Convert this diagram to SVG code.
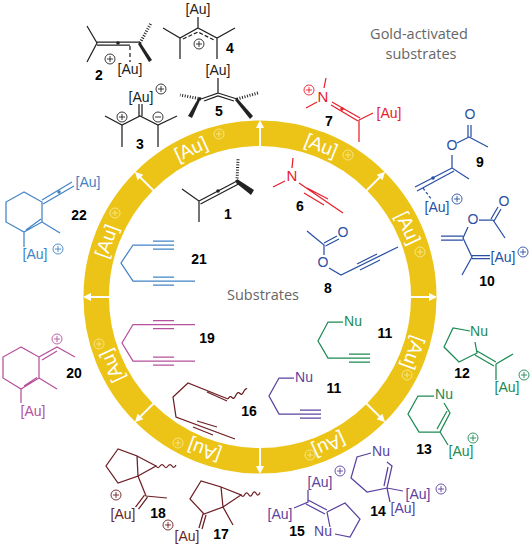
<svg xmlns="http://www.w3.org/2000/svg" xmlns:xlink="http://www.w3.org/1999/xlink" width="532" height="546" viewBox="0 0 532 546">
<style>
text{font-family:"Liberation Sans",Arial,sans-serif;font-size:14px;text-anchor:middle}
.n{font-weight:bold;fill:#000}
.t{font-family:"Open Sans",sans-serif;fill:#666;font-size:14.5px}
.r{fill:#fff;font-size:19px}
g.m path,g.m polyline,g.m line{fill:none;stroke:currentColor;stroke-width:1.25}
g.m polygon{fill:currentColor;stroke:none}
g.m text{fill:currentColor}
g.m text.n{fill:#000}
g.m circle.d{fill:currentColor;stroke:none}
.k{color:#222}.red{color:#e8202c}.blu{color:#2a50a3}.grn{color:#1c8a52}.pur{color:#5b429f}.mar{color:#6d1f24}.pnk{color:#b6519c}.sky{color:#4384c6}
.ar{stroke:#fff;stroke-width:2;fill:none}
</style>
<defs>
<g id="plus"><circle r="5" fill="none" stroke="currentColor" stroke-width="0.9"/><path d="M-3 0H3M0-3V3" fill="none" stroke="currentColor" stroke-width="0.9"/></g>
<g id="minus"><circle r="5" fill="none" stroke="currentColor" stroke-width="0.9"/><path d="M-3 0H3" fill="none" stroke="currentColor" stroke-width="0.9"/></g>
<g id="arr"><line x1="260" y1="146" x2="260" y2="126" class="ar"/><polygon points="260,120 256,128 264,128" fill="#fff"/></g>
</defs>
<rect width="532" height="546" fill="#fff"/>
<g id="ring">
<circle cx="260" cy="297" r="163.8" fill="none" stroke="#ECC417" stroke-width="25.5"/>
<use href="#arr"/>
<use href="#arr" transform="rotate(45 260 297)"/>
<use href="#arr" transform="rotate(90 260 297)"/>
<use href="#arr" transform="rotate(135 260 297)"/>
<use href="#arr" transform="rotate(180 260 297)"/>
<use href="#arr" transform="rotate(225 260 297)"/>
<use href="#arr" transform="rotate(270 260 297)"/>
<use href="#arr" transform="rotate(315 260 297)"/>
<g style="color:#F8E88E">
<use href="#plus" x="348" y="155"/>
<use href="#plus" x="420" y="252"/>
<use href="#plus" x="407" y="375"/>
<use href="#plus" x="310" y="455"/>
<use href="#plus" x="178" y="443"/>
<use href="#plus" x="99" y="344"/>
<use href="#plus" x="115" y="213"/>
<use href="#plus" x="219" y="134"/>
</g>
<text class="r" x="260" y="140" transform="rotate(22 260 297)">[Au]</text>
<text class="r" x="260" y="140" transform="rotate(65 260 297)">[Au]</text>
<text class="r" x="260" y="140" transform="rotate(110 260 297)">[Au]</text>
<text class="r" x="260" y="140" transform="rotate(155 260 297)">[Au]</text>
<text class="r" x="260" y="140" transform="rotate(200 260 297)">[Au]</text>
<text class="r" x="260" y="140" transform="rotate(245 260 297)">[Au]</text>
<text class="r" x="260" y="140" transform="rotate(290 260 297)">[Au]</text>
<text class="r" x="260" y="140" transform="rotate(335 260 297)">[Au]</text>
</g>
<g id="captions">
<text class="t" x="419" y="39">Gold-activated</text>
<text class="t" x="421" y="59">substrates</text>
<text class="t" x="263" y="300">Substrates</text>
</g>
<g id="c1" class="m k">
<path d="M182 189L199 201V222M199 201L237 181M200.500 204L238.500 184"/>
<polygon points="237,179 254,190 251,195 236,183"/>
<circle class="d" cx="218" cy="191" r="1.800"/>
<line x1="237" y1="181" x2="238" y2="159" stroke-dasharray="1 1.600" style="stroke-width:3"/>
<text class="n" x="228" y="219">1</text>
</g>
<g id="c2" class="m k">
<path d="M87 26L97 43L87 62M97 42H140M97 45H130"/>
<circle class="d" cx="118" cy="43" r="1.800"/>
<polygon points="140,42 152,60 149,62 138,44"/>
<line x1="140" y1="43" x2="151" y2="23" stroke-dasharray="1 1.600" style="stroke-width:3"/>
<path d="M130 46V62" stroke-dasharray="4 3"/>
<text x="130" y="74">[Au]</text>
<use href="#plus" x="110" y="59"/>
<text class="n" x="99" y="80">2</text>
</g>
<g id="c3" class="m k">
<path d="M139 104V116M142 104V116M105 116L122 125L140 116L158 125L177 116M122 125V147M158 125V147"/>
<text x="141" y="102">[Au]</text>
<use href="#plus" x="161" y="89"/>
<use href="#plus" x="122" y="117"/>
<use href="#minus" x="158" y="117"/>
<text class="n" x="140" y="149">3</text>
</g>
<g id="c4" class="m k">
<path d="M198 17V28M163 28L180 38L198 28L217 38L235 28M180 38V59M217 38V59"/>
<path d="M183 39L198 32L214 40" stroke-dasharray="4 2"/>
<text x="198" y="14">[Au]</text>
<use href="#plus" x="199" y="44"/>
<text class="n" x="230" y="53">4</text>
</g>
<g id="c5" class="m k">
<path d="M218 78V93L201 99M218 93L237 99M204 101L218 96L234 101"/>
<polygon points="201,98 192,118 188,116 199,97"/>
<polygon points="237,98 253,116 250,119 235,100"/>
<line x1="201" y1="99" x2="180" y2="95" stroke-dasharray="1 1.600" style="stroke-width:3"/>
<line x1="237" y1="99" x2="258" y2="93" stroke-dasharray="1 1.600" style="stroke-width:3"/>
<text x="218" y="75">[Au]</text>
<text class="n" x="219" y="116">5</text>
</g>
<g id="c6" class="m red">
<path d="M273 187L285 181M292 168L293 158M299 183L343 213M307 188L328 199M304 193L324 205"/>
<text x="292" y="181" style="font-size:15px">N</text>
<text class="n" x="300" y="211">6</text>
</g>
<g id="c7" class="m red">
<path d="M326 78L324 88M306 108L317 102M332 102L360 118M331 105L358 121M359 120L373 113M359 120V142"/>
<circle class="d" cx="342" cy="109" r="1.800"/>
<text x="323" y="102" style="font-size:15px">N</text>
<use href="#plus" x="309" y="90"/>
<text x="389" y="118">[Au]</text>
<text class="n" x="329" y="126">7</text>
</g>
<g id="c8" class="m blu">
<path d="M307 231L324 245V255M324 243L337 236M325.500 246L339 239M329 268L341 275L398 247M357 264L377 254M360 270L380 260"/>
<text x="343" y="237">O</text>
<text x="323" y="267">O</text>
<text class="n" x="328" y="293">8</text>
</g>
<g id="c9" class="m blu">
<path d="M468 125V137M471 125V137M469 137L488 147M469 137L457 143M452 155V168L469 179M452 168L415 187M454 171L417 191"/>
<path d="M423 188L432 200" stroke-dasharray="3 2"/>
<circle class="d" cx="433" cy="178" r="1.800"/>
<text x="470" y="119">O</text>
<text x="452" y="150">O</text>
<text x="437" y="212">[Au]</text>
<use href="#plus" x="457" y="199"/>
<text class="n" x="480" y="167">9</text>
</g>
<g id="c10" class="m blu">
<path d="M498 207L491 219M501 209L494 221M493 220L505 238M479 220H493M468 227L463 238L472 257L462 275M441 236H463M441 240H463M472 255.500H490M472 258.500H490"/>
<text x="504" y="206">O</text>
<text x="473" y="224">O</text>
<text x="503" y="262">[Au]</text>
<use href="#plus" x="523" y="252"/>
<text class="n" x="487" y="286">10</text>
</g>
<g id="c11a" class="m grn">
<path d="M343 322H328L318 341L328 358H370M349 354H370M349 362H370"/>
<text x="353" y="326">Nu</text>
<text class="n" x="385" y="338">11</text>
</g>
<g id="c11b" class="m pur">
<path d="M294 378H279L269 396L279 414H321M300 410H321M300 418H321"/>
<text x="304" y="382">Nu</text>
<text class="n" x="334" y="393">11</text>
</g>
<g id="c12" class="m grn">
<path d="M470 331L453 328L444 347L459 362L477 353L475 342M477 351L496 362M475 355L494 366M496 364L513 354M496 364V380"/>
<text x="479" y="336">Nu</text>
<text x="507" y="392">[Au]</text>
<use href="#plus" x="524" y="375"/>
<text class="n" x="462" y="378">12</text>
</g>
<g id="c13" class="m grn">
<path d="M434 396H418L408 414L419 432H440L450 413L444 403M447 411L437 429M440 432L448 445"/>
<text x="444" y="399">Nu</text>
<text x="461" y="456">[Au]</text>
<use href="#plus" x="473" y="438"/>
<text class="n" x="424" y="454">13</text>
</g>
<g id="c14" class="m pur">
<path d="M371 453L357 457L351 478L367 492L387 488L392 466L387 462M388 467L384 486M387 488L403 491M387 488L390 502"/>
<text x="381" y="456">Nu</text>
<text x="418" y="499">[Au]</text>
<text x="403" y="513">[Au]</text>
<use href="#plus" x="441" y="489"/>
<text class="n" x="378" y="516">14</text>
</g>
<g id="c15" class="m pur">
<path d="M308 490V502L294 508M308 500L327 510M306 504L325 514M327 512L345 503L360 519L350 537L335 534M327 512L330 527"/>
<text x="320" y="487">[Au]</text>
<text x="280" y="519">[Au]</text>
<text x="323" y="536">Nu</text>
<use href="#plus" x="340" y="471"/>
<text class="n" x="297" y="536">15</text>
</g>
<g id="c16" class="m mar">
<path d="M228 399L188 383L173 397L176 417L235 439M207 392L227 401M197 421L217 427M193 427L213 435"/>
<path d="M228 399q2-4 4-1.500t4-2.500q2-4 4-1.500t4-2.500q2-3 3-2"/>
<text class="n" x="249" y="416">16</text>
</g>
<g id="c17" class="m mar">
<path d="M201 481L190 499L204 514L223 507L221 487ZM221 487L241 495L223 507M223 507L233 525M203 514L199 528M206 515L202 529"/>
<path d="M241 495q2 3 3.800-.500t3.800 0t3.800-.500t3.800-.500t3.800-1"/>
<text x="187" y="541">[Au]</text>
<use href="#plus" x="168" y="525"/>
<text class="n" x="221" y="539">17</text>
</g>
<g id="c18" class="m mar">
<path d="M118 449L106 466L118 483L138 476L137 456ZM137 456L156 466L138 476M138 476L146 496L167 498M144.500 495L135.500 507M147.500 497L138.500 509"/>
<path d="M156 466q2 3 4 0t4 0t4 0t4 0t4-1"/>
<text x="123" y="519">[Au]</text>
<use href="#plus" x="116" y="495"/>
<text class="n" x="158" y="518">18</text>
</g>
<g id="c19" class="m pnk">
<path d="M195 324.500H133L122 343L133 361H195M153 320.500H174M153 328.500H174M153 357H174M153 365H174"/>
<text class="n" x="207" y="343">19</text>
</g>
<g id="c20" class="m pnk">
<path d="M21 347L3 357V378L21 389L39 378V357ZM24 386L37 377.500M39 357L57 347L75 357M42 360L57 351M39 378L57 389M21 389V403"/>
<use href="#plus" x="57" y="339"/>
<text x="33" y="416">[Au]</text>
<text class="n" x="74" y="378">20</text>
</g>
<g id="c21" class="m sky">
<path d="M174 245H133L121 263L133 281H195M153 241H174M153 249H174M153 277H174M153 285H174"/>
<text class="n" x="199" y="264">21</text>
</g>
<g id="c22" class="m sky">
<path d="M24 192L6 202V222L24 232L42 222V202ZM26 230L41 219M42 200L72 182M43 204L74 186M42 222L60 233M24 232V247"/>
<circle class="d" cx="59" cy="192" r="1.800"/>
<text x="88" y="187">[Au]</text>
<text x="35" y="259">[Au]</text>
<use href="#plus" x="58" y="249"/>
<text class="n" x="79" y="220">22</text>
</g>
</svg>
